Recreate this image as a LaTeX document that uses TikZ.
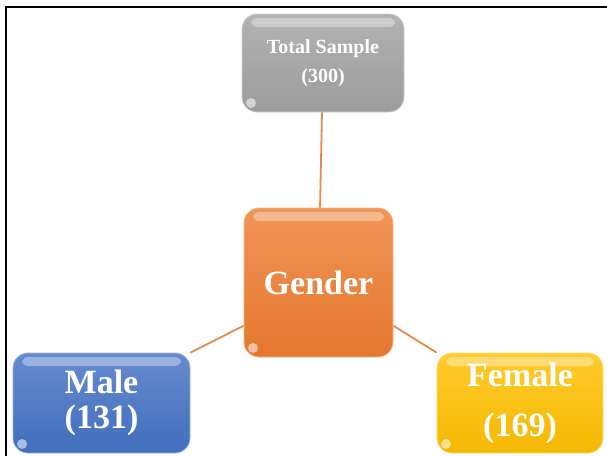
\documentclass[tikz,border=0pt]{standalone}
\usepackage{fontspec}
\setmainfont{Liberation Serif}
\definecolor{samplegray}{RGB}{162,162,162}
\definecolor{genderorange}{RGB}{237,125,49}
\definecolor{maleblue}{RGB}{68,114,196}
\definecolor{femalegold}{RGB}{255,192,0}
\definecolor{linkorange}{RGB}{232,138,78}
\tikzset{
  glossy/.style={rounded corners=15pt, inner sep=0pt,
    top color=#1!82!white, bottom color=#1!96!black, draw=#1!55!white, line width=0.8pt,
    path picture={
      \fill[white, opacity=.35, rounded corners=6pt]
        ([xshift=9pt,yshift=-4pt]path picture bounding box.north west)
        rectangle ([xshift=-9pt,yshift=-13pt]path picture bounding box.north east);
      \fill[white, opacity=.55]
        ([xshift=9pt,yshift=9pt]path picture bounding box.south west) circle (5pt);
    }}
}
\begin{document}
\begin{tikzpicture}[
  x=1pt, y=1pt,
  level 1/.style={level distance=219.5pt},
  level 2/.style={level distance=120.5pt, sibling distance=418.5pt},
  every node/.style={font=\bfseries, align=center, text=white},
  edge from parent/.style={draw=linkorange, line width=1.8pt}
]
\useasboundingbox (0,0) rectangle (607,-456);
% frame of the figure
\draw[line width=1.2pt] (6,-456) -- (6,-7) -- (607,-7);
\node[glossy=samplegray, minimum width=162pt, minimum height=98pt,
      font=\bfseries\fontsize{20}{29}\selectfont] (Total) at (323,-63)
{Total Sample\\(300)}
  child { node[glossy=genderorange, xshift=-4.5pt, minimum width=149pt, minimum height=149pt,
               font=\bfseries\fontsize{34}{40}\selectfont] (Gender)
    {Gender}
      child[edge from parent path={(\tikzparentnode.210) -- (\tikzchildnode.north east)}]
      { node[glossy=maleblue, xshift=-7.75pt, minimum width=177pt, minimum height=100pt,
             font=\bfseries\fontsize{34}{35}\selectfont] (Male)
        {Male\\(131)}
      }
      child[edge from parent path={(\tikzparentnode.330) -- (\tikzchildnode.north west)}]
      { node[glossy=femalegold, xshift=-7.75pt, minimum width=166pt, minimum height=100pt,
             font=\bfseries\fontsize{34}{50}\selectfont] (Female)
        {Female\\(169)}
      }
  };
\end{tikzpicture}
\end{document}
